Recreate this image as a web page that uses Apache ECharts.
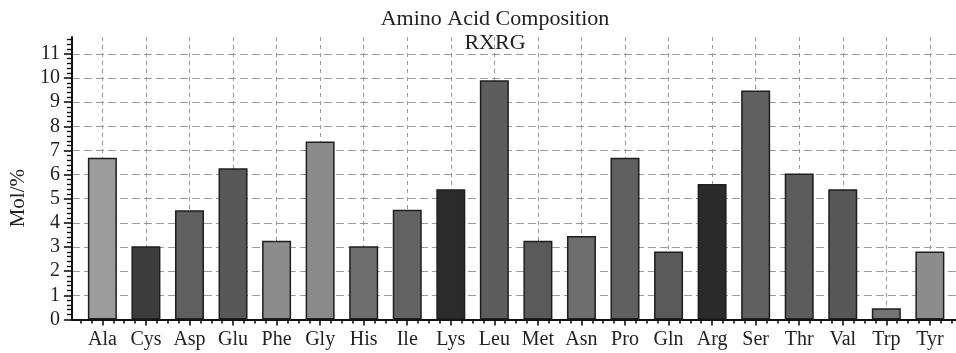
<!DOCTYPE html>
<html><head><meta charset="utf-8">
<script src="https://cdn.jsdelivr.net/npm/echarts@6/dist/echarts.min.js"></script>
<style>html,body{margin:0;padding:0;background:#fff}#c{width:956px;height:353px}</style>
</head><body><div id="c"></div>
<script>
const titleText = 'Amino Acid Composition';
const subtitleText = 'RXRG';
const yAxisName = 'Mol/%';
const categories = ['Ala','Cys','Asp','Glu','Phe','Gly','His','Ile','Lys','Leu','Met','Asn','Pro','Gln','Arg','Ser','Thr','Val','Trp','Tyr'];
const values = [6.70, 3.03, 4.52, 6.26, 3.26, 7.37, 3.03, 4.54, 5.39, 9.91, 3.26, 3.46, 6.70, 2.81, 5.61, 9.48, 6.04, 5.39, 0.46, 2.81];
const yTicks = [0,1,2,3,4,5,6,7,8,9,10,11];
const barColors = ['#9c9c9c','#3c3c3c','#5f5f5f','#585858','#8c8c8c','#8a8a8a','#6e6e6e','#636363','#2b2b2b','#5d5d5d','#5a5a5a','#6e6e6e','#606060','#5a5a5a','#2a2a2a','#606060','#5c5c5c','#575757','#747474','#8c8c8c'];

const FONT = 'Liberation Serif';
const catPos = categories.map((_, i) => i + 1);
const quarterPos = [];
for (let i = 0; i <= categories.length; i++) {
  [0.25, 0.5, 0.75].forEach(f => { const v = i + f; if (v > 0.3 && v < 20.6) quarterPos.push(v); });
}

const chart = echarts.init(document.getElementById('c'), null, {renderer: 'canvas'});
chart.setOption({
  animation: false,
  backgroundColor: '#fff',
  title: {
    text: titleText + '\n' + subtitleText,
    left: 490,
    top: 2,
    textAlign: 'center',
    textStyle: {fontFamily: FONT, fontSize: 22, fontWeight: 'normal', color: '#222', lineHeight: 24}
  },
  grid: {left: 66, right: 0, top: 37, bottom: 33.6, containLabel: false},
  xAxis: [{
    type: 'value', min: 0.3, max: 20.6,
    axisLine: {show: true, onZero: false, lineStyle: {color: '#111', width: 2}},
    axisTick: {show: true, customValues: catPos, length: 6, lineStyle: {color: '#111', width: 1.6}},
    axisLabel: {show: true, customValues: catPos, margin: 10, fontFamily: FONT, fontSize: 20, color: '#222',
      formatter: v => categories[Math.round(v) - 1] || ''},
    splitLine: {show: true, lineStyle: {color: '#9a9a9a', width: 1, type: [4, 4]}}
  }, {
    type: 'value', min: 0.3, max: 20.6, position: 'bottom',
    axisLine: {show: false},
    axisTick: {show: true, customValues: quarterPos, length: 4, lineStyle: {color: '#111', width: 1.6}},
    axisLabel: {show: false},
    splitLine: {show: false}
  }],
  yAxis: {
    type: 'value', min: 0, max: 11.7, interval: 1,
    name: yAxisName, nameLocation: 'middle', nameRotate: 90, nameGap: 34,
    nameTextStyle: {fontFamily: FONT, fontSize: 21, color: '#222', padding: [0, 40, 0, 0]},
    axisLine: {show: true, lineStyle: {color: '#111', width: 2}},
    axisTick: {show: true, customValues: yTicks, length: 8, lineStyle: {color: '#111', width: 1.6}},
    minorTick: {show: true, splitNumber: 5, length: 5, lineStyle: {color: '#111', width: 1.4}},
    axisLabel: {show: true, customValues: yTicks, margin: 12, fontFamily: FONT, fontSize: 20, color: '#222'},
    splitLine: {show: true, lineStyle: {color: '#9a9a9a', width: 1, type: [8, 4]}}
  },
  series: [{
    type: 'bar',
    xAxisIndex: 0,
    barWidth: 29,
    data: values.map((v, i) => ({value: [catPos[i], v], itemStyle: {color: barColors[i]}})),
    itemStyle: {borderColor: '#1e1e1e', borderWidth: 1.5}
  }]
});
</script>
</body></html>
